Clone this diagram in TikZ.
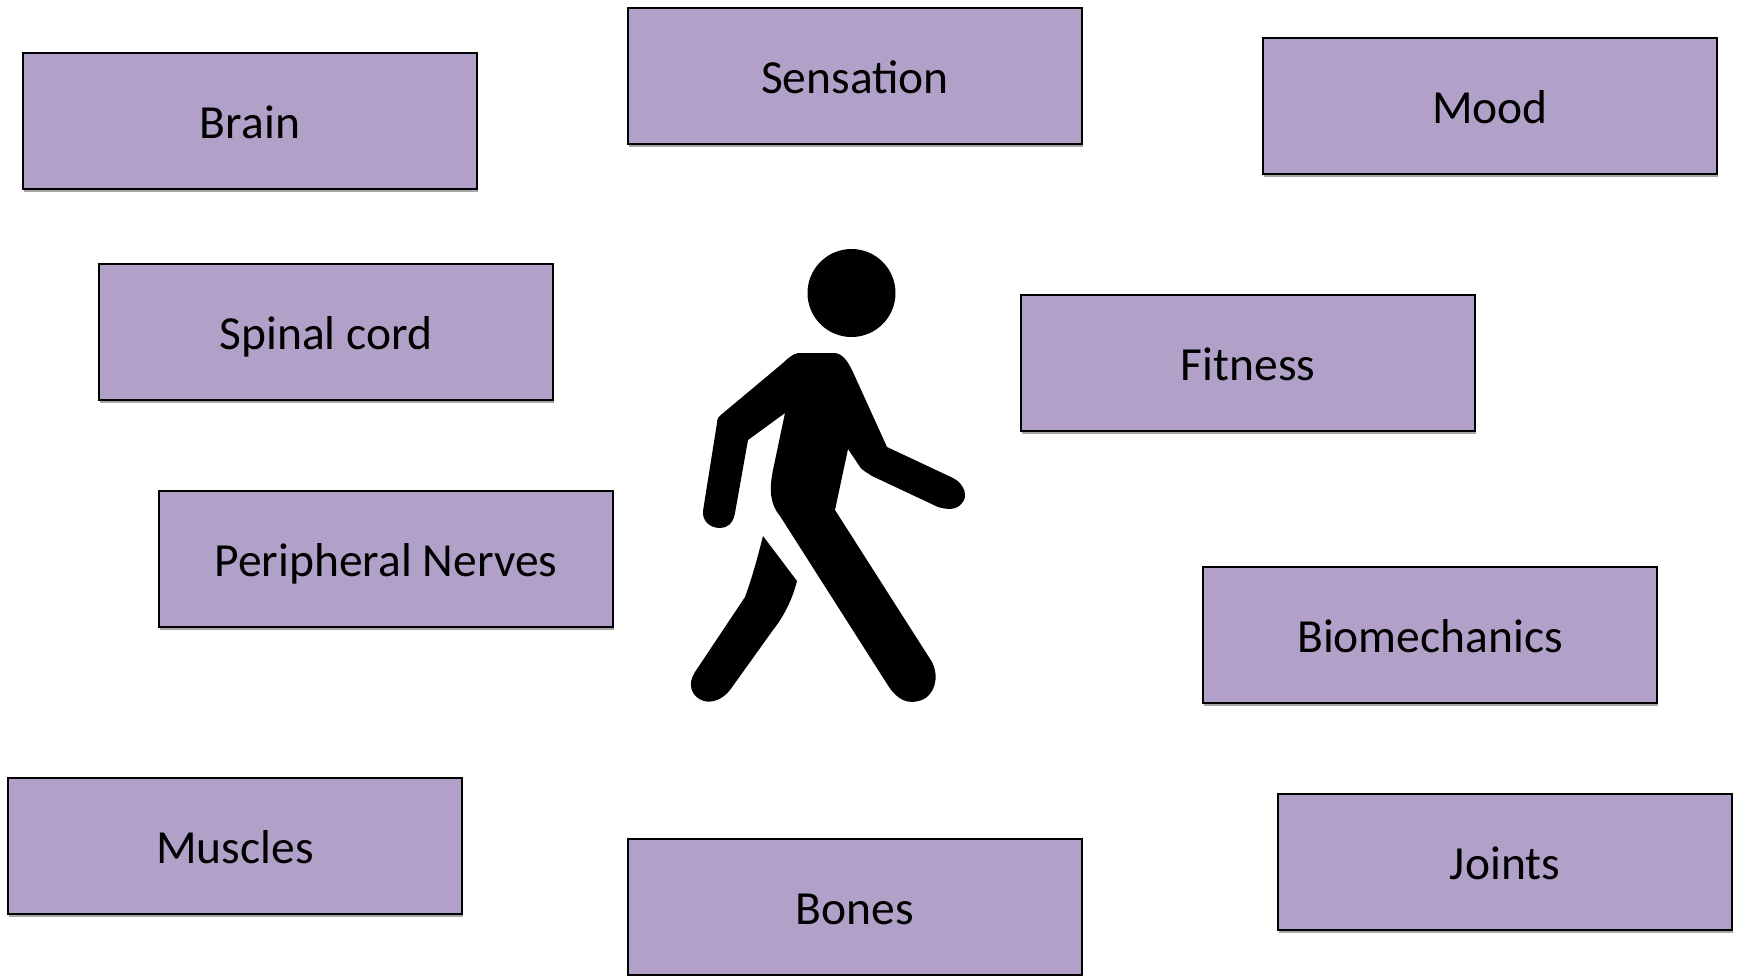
\documentclass[tikz,border=0pt]{standalone}
\usepackage{xcolor}
\usepackage{fontspec}
\setmainfont{Carlito}
\usetikzlibrary{shadows}
\definecolor{boxpurple}{HTML}{B1A0C7}
\tikzset{
  factorbox/.style={rectangle, draw=black, line width=1.6pt, fill=boxpurple, minimum width=454pt, minimum height=136pt, inner sep=0pt, text height=44pt, text depth=10pt, font=\fontsize{47.5}{56}\selectfont, drop shadow={shadow xshift=0.5pt, shadow yshift=-3pt, opacity=0.35, fill=black}}
}

\begin{document}
\begin{tikzpicture}[x=1pt, y=-1pt]
  \useasboundingbox (0,0) rectangle (1738,975);

  \node[factorbox] (brain) at (250,121) {Brain};
  \node[factorbox] (sensation) at (855,76) {Sensation};
  \node[factorbox] (mood) at (1490,106) {Mood};
  \node[factorbox] (spinal) at (326,332) {Spinal cord};
  \node[factorbox] (fitness) at (1248,363) {Fitness};
  \node[factorbox] (nerves) at (386,559) {Peripheral Nerves};
  \node[factorbox] (biomech) at (1430,635) {Biomechanics};
  \node[factorbox] (muscles) at (235,846) {Muscles};
  \node[factorbox] (bones) at (855,907) {Bones};
  \node[factorbox] (joints) at (1505,862) {Joints};

  \fill[black] (851.5,293) circle[radius=44];
  \fill[black] (798,353) -- (835,353) .. controls (843,354) and (848,362) .. (852,370)
    -- (887,447) -- (953,478) .. controls (965,484) and (968,497) .. (962,503)
    .. controls (957,510) and (948,510) .. (938,507) -- (872,476) .. controls (866,472) and (862,470) .. (860,467)
    -- (848,449) -- (835,510) -- (932,662) .. controls (940,678) and (934,695) .. (922,700)
    .. controls (908,705) and (898,700) .. (889,687) -- (780,516) .. controls (770,504) and (769,490) .. (773,470)
    -- (785,413) -- (748,440) -- (735,513) .. controls (733,524) and (727,528) .. (720,528)
    .. controls (710,528) and (702,521) .. (703,511) -- (717,423) .. controls (717,418) and (719,416) .. (722,414)
    -- (783,363) .. controls (788,358) and (793,354) .. (798,353) -- cycle;
  \fill[black] (763,536) -- (797,581) .. controls (793,597) and (785,615) .. (773,630)
    -- (730,690) .. controls (722,700) and (712,703) .. (704,701) .. controls (691,697) and (687,684) .. (695,672)
    -- (745,597) .. controls (752,578) and (758,556) .. (763,536) -- cycle;
\end{tikzpicture}
\end{document}
